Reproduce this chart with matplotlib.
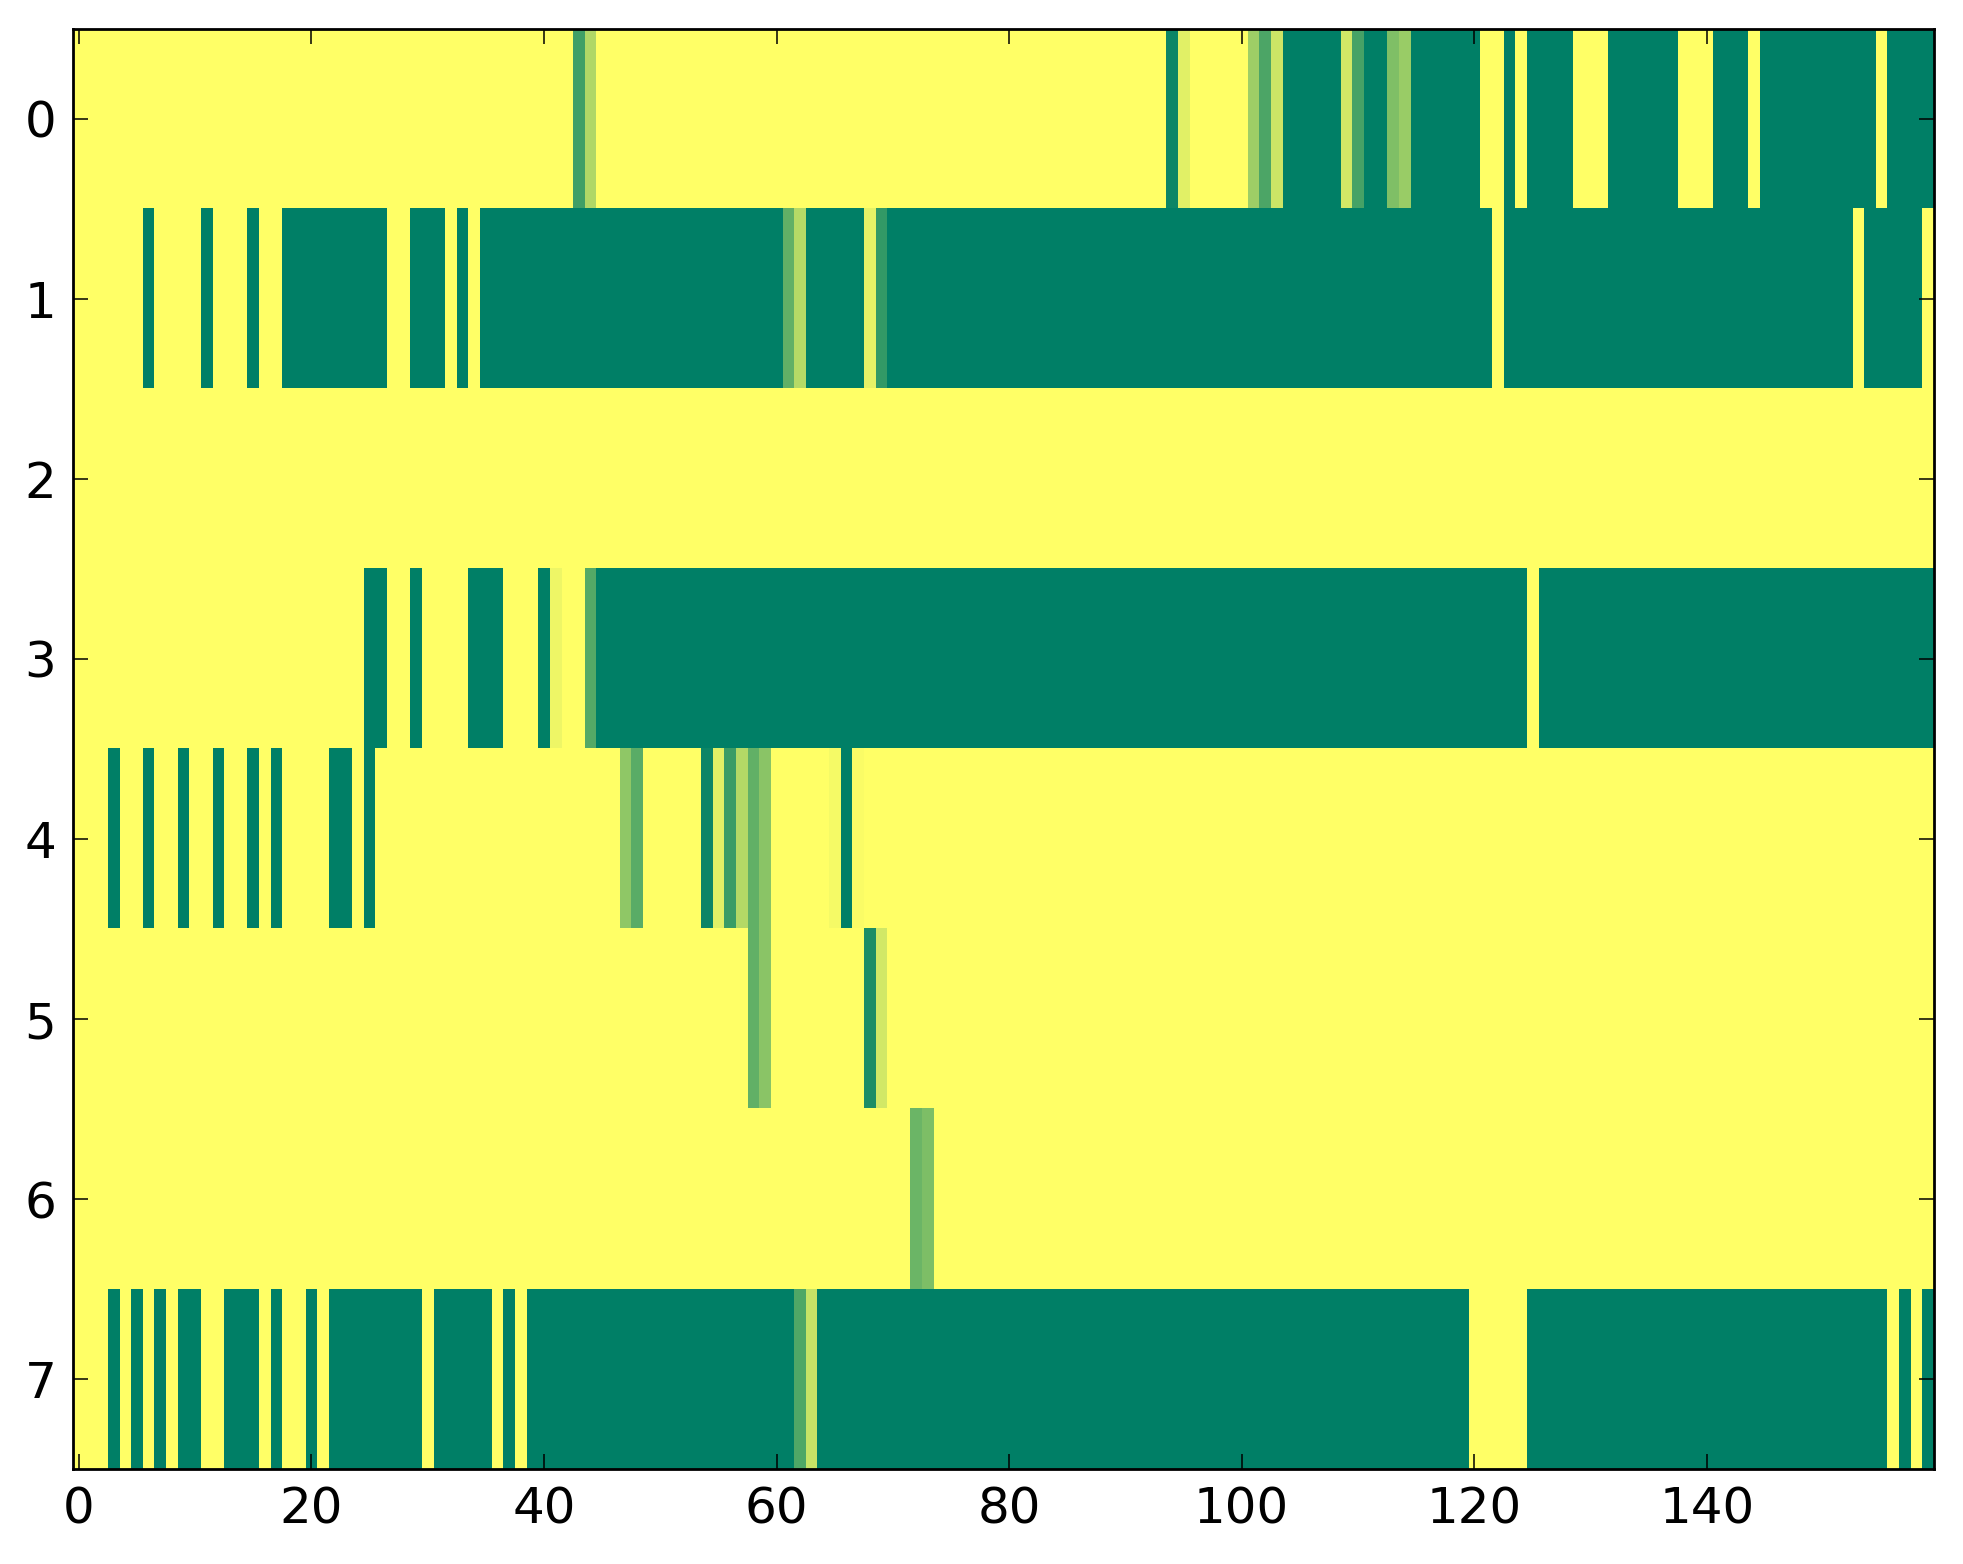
import numpy as np
import matplotlib
matplotlib.use("Agg")
import matplotlib.pyplot as plt

n_cols = 160
row_labels = [0, 1, 2, 3, 4, 5, 6, 7]

# each row: runs of (first column, last column, value); anything not listed is 0
row0 = [(43, 43, 0.75), (44, 44, 0.31), (94, 94, 0.95), (95, 95, 0.12),
        (101, 101, 0.38), (102, 102, 0.70), (103, 103, 0.20), (104, 108, 1.0),
        (109, 109, 0.18), (110, 110, 0.73), (111, 112, 1.0), (113, 113, 0.50),
        (114, 114, 0.40), (115, 120, 1.0), (123, 123, 1.0), (125, 128, 1.0),
        (132, 137, 1.0), (141, 143, 1.0), (145, 154, 1.0), (156, 159, 1.0)]
row1 = [(6, 6, 1.0), (11, 11, 1.0), (15, 15, 1.0), (18, 26, 1.0), (29, 31, 1.0),
        (33, 33, 1.0), (35, 60, 1.0), (61, 61, 0.62), (62, 62, 0.29), (63, 67, 1.0),
        (68, 68, 0.10), (69, 69, 0.80), (70, 121, 1.0), (123, 152, 1.0), (154, 158, 1.0)]
row2 = []
row3 = [(25, 26, 1.0), (29, 29, 1.0), (34, 36, 1.0), (40, 40, 1.0), (41, 41, 0.07),
        (44, 44, 0.67), (45, 124, 1.0), (126, 159, 1.0)]
row4 = [(3, 3, 1.0), (6, 6, 1.0), (9, 9, 1.0), (12, 12, 1.0), (15, 15, 1.0),
        (17, 17, 1.0), (22, 23, 1.0), (25, 25, 1.0), (47, 47, 0.44), (48, 48, 0.65),
        (54, 54, 0.95), (55, 55, 0.12), (56, 56, 0.77), (57, 57, 0.30), (58, 58, 0.62),
        (59, 59, 0.46), (65, 65, 0.04), (66, 66, 1.0), (67, 67, 0.02)]
row5 = [(58, 58, 0.62), (59, 59, 0.46), (68, 68, 0.89), (69, 69, 0.18)]
row6 = [(72, 72, 0.58), (73, 73, 0.51)]
row7 = [(3, 3, 1.0), (5, 5, 1.0), (7, 7, 1.0), (9, 10, 1.0), (13, 15, 1.0),
        (17, 17, 1.0), (20, 20, 1.0), (22, 29, 1.0), (31, 35, 1.0), (37, 37, 1.0),
        (39, 61, 1.0), (62, 62, 0.69), (63, 63, 0.22), (64, 119, 1.0), (125, 155, 1.0),
        (157, 157, 1.0), (159, 159, 1.0)]

rows = [row0, row1, row2, row3, row4, row5, row6, row7]

grid = np.zeros((len(rows), n_cols))
for i, runs in enumerate(rows):
    for a, b, v in runs:
        grid[i, a:b + 1] = v

fig = plt.figure(figsize=(19.63, 15.64), dpi=100)
ax = fig.add_axes([0.0372, 0.0607, 0.9478, 0.9208])
ax.imshow(grid, cmap="summer_r", vmin=0, vmax=1, aspect="auto",
          interpolation="nearest")

ax.set_xticks(np.arange(0, 141, 20))
ax.set_yticks(row_labels)
ax.set_xlim(-0.5, n_cols - 0.5)
ax.set_ylim(len(rows) - 0.5, -0.5)
ax.tick_params(direction="in", top=True, right=True, length=11, width=1.1,
               labelsize=36, pad=12)
for s in ax.spines.values():
    s.set_linewidth(2)

fig.savefig("out.png", dpi=100)
